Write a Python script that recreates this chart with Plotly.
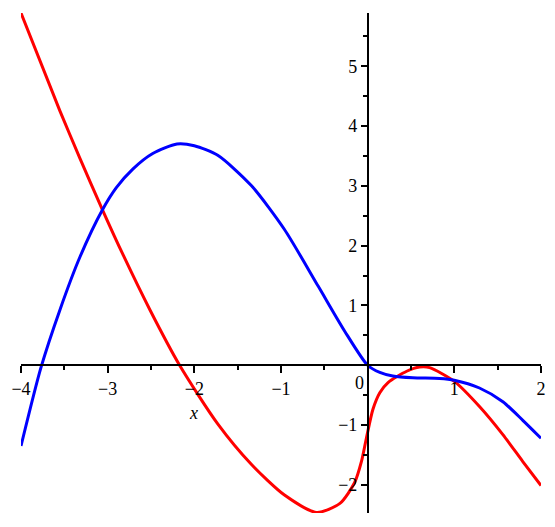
import plotly.graph_objects as go

# curva azul (f)
blueX = [-4, -3.77, -3.55, -3.32, -3.06, -2.9, -2.71, -2.48, -2.2, -2.0, -1.73, -1.34,
         -0.96, -0.57, -0.265, 0, 0.14, 0.29, 0.52, 0.83, 1.0, 1.29, 1.56, 1.79, 2.0]
blueY = [-1.35, -0.04, 0.93, 1.81, 2.60, 2.97, 3.28, 3.54, 3.70, 3.67, 3.51, 3.00,
         2.27, 1.32, 0.57, 0, -0.12, -0.18, -0.21, -0.22, -0.25, -0.38, -0.61, -0.92, -1.22]

# curva vermelha (f')
redX = [-4, -3.55, -3.32, -3.06, -2.82, -2.51, -2.17, -1.73, -1.34, -0.96, -0.59,
        -0.32, -0.15, -0.07, -0.015, 0.06, 0.14, 0.235, 0.45, 0.6, 0.715, 1.0, 1.29, 1.56, 1.79, 2.0]
redY = [5.89, 4.25, 3.46, 2.60, 1.84, 0.92, 0, -0.98, -1.66, -2.17, -2.46,
        -2.31, -1.96, -1.60, -1.22, -0.74, -0.46, -0.29, -0.10, -0.03, -0.04, -0.27, -0.69, -1.16, -1.61, -2.01]

xTicks = [-4, -3, -2, -1, 1, 2]
xTickText = ['\u22124', '\u22123', '\u22122', '\u22121', '1', '2']
yTicks = [-2, -1, 1, 2, 3, 4, 5]
yTickText = ['\u22122', '\u22121', '1', '2', '3', '4', '5']

xMin, xMax = -4, 2
yMin, yMax = -2.47, 5.89

SERIF = 'Liberation Serif'

fig = go.Figure()
fig.add_trace(go.Scatter(x=redX, y=redY, mode='lines', line=dict(color='#ff0000', width=3, shape='spline', smoothing=0.7)))
fig.add_trace(go.Scatter(x=blueX, y=blueY, mode='lines', line=dict(color='#0000ff', width=3, shape='spline', smoothing=0.7)))

# a pagina tem margem de 8px no body, por isso as margens compensam
fig.update_layout(
    width=555, height=527,
    margin=dict(l=13, r=22, t=5, b=22),
    plot_bgcolor='white', paper_bgcolor='white',
    showlegend=False,
    font=dict(family=SERIF, size=18, color='black'),
    xaxis=dict(range=[xMin, xMax], anchor='free', position=(0 - yMin) / (yMax - yMin), automargin=False,
               showgrid=False, zeroline=False, showline=True, linecolor='black', linewidth=1.5,
               ticks='outside', ticklen=7, tickwidth=1.5, tickcolor='black',
               tickvals=xTicks, ticktext=xTickText, tickfont=dict(family=SERIF, size=18, color='black'),
               minor=dict(dtick=0.5, tick0=0, ticks='outside', ticklen=4, tickwidth=1.5, tickcolor='black')),
    yaxis=dict(range=[yMin, yMax], anchor='free', position=(0 - xMin) / (xMax - xMin), automargin=False,
               showgrid=False, zeroline=False, showline=True, linecolor='black', linewidth=1.5,
               ticks='outside', ticklen=6, tickwidth=1.5, tickcolor='black',
               tickvals=yTicks, ticktext=yTickText, tickfont=dict(family=SERIF, size=18, color='black'),
               minor=dict(dtick=0.5, tick0=0, ticks='outside', ticklen=4, tickwidth=1.5, tickcolor='black')),
)

# rotulo 0 e nome do eixo x
fig.add_annotation(x=-0.09, y=0, text='0', showarrow=False, xanchor='center', yanchor='top', yshift=-6,
                   font=dict(family=SERIF, size=18, color='black'))
fig.add_annotation(x=-2.01, y=0, text='<i>x</i>', showarrow=False, xanchor='center', yanchor='top', yshift=-36,
                   font=dict(family=SERIF, size=18, color='black'))

fig.write_html('out.html')
